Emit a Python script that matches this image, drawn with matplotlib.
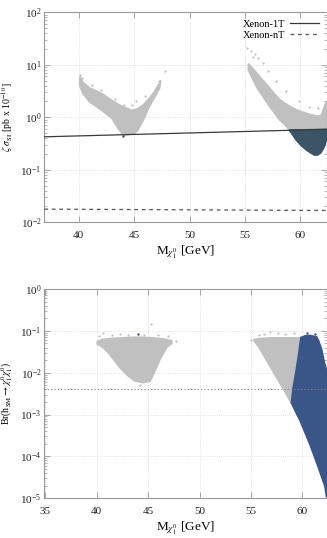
import matplotlib
matplotlib.use("Agg")
import matplotlib.pyplot as plt
from matplotlib.ticker import LogLocator, NullFormatter, FixedLocator

plt.rcParams['font.family'] = ['Liberation Serif', 'DejaVu Serif']
plt.rcParams['mathtext.fontset'] = 'stix'

GRAY = '#c0c0c0'
TEAL = '#3b5566'
BLUE = '#3a5587'

# ---------------- top panel data: (mass [GeV], zeta*sigma_SI [pb x 1e-10])
top_left_cloud_m = [40.1, 40.4, 41.0, 42.0, 43.0, 43.7, 44.3, 44.8, 45.3, 45.8, 46.3, 46.8, 47.3, 47.4,
                    47.3, 46.8, 46.3, 46.0, 45.6, 45.3, 45.0, 44.5, 44.0, 43.6, 43.0, 42.0, 41.0, 40.4, 40.1]
top_left_cloud_s = [6.0, 4.6, 3.6, 2.9, 2.1, 1.7, 1.5, 1.35, 1.45, 1.7, 2.2, 3.0, 4.5, 5.0,
                    3.6, 2.3, 1.5, 1.05, 0.72, 0.55, 0.49, 0.47, 0.46, 0.6, 0.95, 1.4, 1.95, 2.8, 4.0]

top_right_cloud_m = [55.3, 55.7, 56.1, 56.6, 57.1, 57.6, 58.1, 58.6, 59.1, 59.6, 60.1, 60.6, 61.1, 61.6, 61.9, 62.1, 62.35,
                     62.35, 59.0, 58.6, 58.1, 57.6, 57.1, 56.6, 56.1, 55.7, 55.3]
top_right_cloud_s = [10.5, 8.5, 6.8, 5.1, 3.9, 2.9, 2.2, 1.85, 1.6, 1.4, 1.28, 1.18, 1.1, 1.05, 1.1, 1.5, 2.0,
                     0.59, 0.575, 0.72, 0.9, 1.25, 1.75, 2.5, 3.6, 5.3, 8.0]

top_allowed_m = [59.0, 62.35, 62.35, 62.15, 61.85, 61.55, 61.25, 60.9, 60.5, 60.05, 59.6, 59.3, 59.0]
top_allowed_s = [0.575, 0.59, 0.36, 0.27, 0.21, 0.19, 0.19, 0.21, 0.24, 0.29, 0.37, 0.46, 0.56]

top_outlier_m = [55.2, 55.55, 55.9, 55.75, 56.2, 56.6, 57.1, 57.8, 58.7, 59.9, 60.8, 61.6,
                 40.1, 40.3, 41.2, 42.0, 43.3, 44.1, 44.8, 45.2, 46.0, 47.8, 47.2]
top_outlier_s = [21, 18, 16, 14, 13.5, 11, 7.5, 5.0, 3.2, 2.0, 1.6, 1.5,
                 6.3, 5.6, 4.2, 3.3, 2.2, 1.75, 1.7, 2.0, 2.6, 7.5, 5.0]
top_allowed_outlier_m = [44.0]
top_allowed_outlier_s = [0.45]

xenon1t_m = [36.9, 62.35]
xenon1t_s = [0.425, 0.59]
xenonnt_m = [36.9, 62.35]
xenonnt_s = [0.0178, 0.0168]

# ---------------- bottom panel data: (mass [GeV], Br(h -> chi chi))
bot_left_cloud_m = [40.05, 40.5, 41.5, 42.5, 43.5, 44.5, 45.5, 46.5, 47.3,
                    47.3, 46.8, 46.16, 45.67, 45.2, 44.5, 43.73, 43.08, 42.27, 41.13, 40.5, 40.05]
bot_left_cloud_b = [0.055, 0.062, 0.066, 0.068, 0.07, 0.07, 0.068, 0.064, 0.058,
                    0.05, 0.040, 0.021, 0.011, 0.0063, 0.0058, 0.0063, 0.0083, 0.013, 0.030, 0.042, 0.048]

bot_right_cloud_m = [55.3, 56.0, 57.0, 58.0, 59.0, 59.85, 59.65, 59.4, 59.1, 58.92,
                     58.1, 56.8, 55.8, 55.3]
bot_right_cloud_b = [0.062, 0.066, 0.068, 0.068, 0.068, 0.068, 0.03, 0.012, 0.0045, 0.0019,
                     0.0043, 0.015, 0.04, 0.058]

bot_allowed_m = [59.85, 60.3, 60.8, 61.4, 61.6, 61.9, 62.2, 62.35, 62.35, 62.19, 61.53, 60.7, 59.74, 59.41,
                 58.92, 59.1, 59.4, 59.65, 59.85]
bot_allowed_b = [0.07, 0.077, 0.078, 0.072, 0.058, 0.035, 0.016, 0.012, 1.05e-5, 1.9e-5, 5.6e-5, 2.0e-4, 7.4e-4, 1.07e-3,
                 0.0019, 0.0045, 0.012, 0.03, 0.07]

bot_outlier_m = [40.2, 40.64, 41.5, 42.3, 43.0, 44.6, 45.28, 46.0, 46.9, 47.75, 44.2,
                 55.0, 55.8, 56.3, 56.9, 57.6, 58.3, 59.2]
bot_outlier_b = [0.075, 0.088, 0.08, 0.082, 0.078, 0.08, 0.145, 0.08, 0.075, 0.057, 0.0052,
                 0.062, 0.08, 0.085, 0.095, 0.088, 0.082, 0.09]
bot_allowed_outlier_m = [43.99, 60.5, 61.2]
bot_allowed_outlier_b = [0.083, 0.088, 0.085]

br_limit_m = [34.9, 62.35]
br_limit_b = [0.004, 0.004]

W, H = 327, 538
fig = plt.figure(figsize=(W / 100, H / 100), dpi=100)
ax1 = fig.add_axes([44.3 / W, (H - 222.3) / H, 282.2 / W, 210 / H])
ax2 = fig.add_axes([44.3 / W, (H - 498.3) / H, 282.2 / W, 209.3 / H])

SP = '#999999'


def style(ax):
    ax.set_yscale('log')
    for s in ax.spines.values():
        s.set_color(SP)
        s.set_linewidth(0.8)
    ax.tick_params(which='both', direction='in', top=True, right=True, colors=SP,
                   labelcolor='#222222', labelsize=8)
    ax.tick_params(axis='y', pad=2)
    ax.tick_params(axis='x', pad=6)
    ax.tick_params(which='major', length=4, width=0.6)
    ax.tick_params(which='minor', length=2, width=0.5)
    ax.yaxis.set_minor_locator(LogLocator(base=10, subs=range(2, 10), numticks=20))
    ax.yaxis.set_minor_formatter(NullFormatter())
    ax.grid(True, which='major', color='#d8d8d8', linestyle=':', linewidth=0.6)
    ax.set_axisbelow(True)


# ---- top
style(ax1)
ax1.fill(top_left_cloud_m, top_left_cloud_s, color=GRAY, lw=1.2, zorder=2)
ax1.fill(top_right_cloud_m, top_right_cloud_s, color=GRAY, lw=1.2, zorder=2)
ax1.fill(top_allowed_m, top_allowed_s, color=TEAL, lw=1.0, zorder=3)
ax1.scatter(top_outlier_m, top_outlier_s, s=2.5, color=GRAY, lw=0, zorder=2)
ax1.scatter(top_allowed_outlier_m, top_allowed_outlier_s, s=3, color=TEAL, lw=0, zorder=3)
ax1.plot(xenon1t_m, xenon1t_s, color='#3a3a3a', lw=0.9, label='Xenon-1T', zorder=4)
ax1.plot(xenonnt_m, xenonnt_s, color='#555555', lw=0.9, ls=(0, (3, 3)), label='Xenon-nT', zorder=4)
ax1.set_xlim(36.9, 62.35)
ax1.set_ylim(1e-2, 1e2)
ax1.xaxis.set_major_locator(FixedLocator([40, 45, 50, 55, 60]))
ax1.set_xlabel(r'M$_{\chi^0_1}$ [GeV]', fontsize=9.5, labelpad=3)
ax1.set_ylabel(r'$\zeta\ \sigma_{\rm SI}$ [pb x 10$^{-10}$]', fontsize=7)
ax1.yaxis.set_label_coords(-0.105, 0.5)
leg = ax1.legend(loc='upper right', frameon=False, markerfirst=False, fontsize=7.5,
                 handlelength=2.8, handletextpad=0.5, labelspacing=0.15, borderaxespad=0.3)

# ---- bottom
style(ax2)
ax2.fill(bot_left_cloud_m, bot_left_cloud_b, color=GRAY, lw=1.2, zorder=2)
ax2.fill(bot_right_cloud_m, bot_right_cloud_b, color=GRAY, lw=1.2, zorder=2)
ax2.fill(bot_allowed_m, bot_allowed_b, color=BLUE, lw=1.0, zorder=3)
ax2.scatter(bot_outlier_m, bot_outlier_b, s=2.5, color=GRAY, lw=0, zorder=2)
ax2.scatter(bot_allowed_outlier_m, bot_allowed_outlier_b, s=3, color=BLUE, lw=0, zorder=3)
ax2.plot(br_limit_m, br_limit_b, color='#888888', lw=0.8, ls=(0, (1, 2)), zorder=4)
ax2.set_xlim(34.9, 62.35)
ax2.set_ylim(1e-5, 1e0)
ax2.xaxis.set_major_locator(FixedLocator([35, 40, 45, 50, 55, 60]))
ax2.set_xlabel(r'M$_{\chi^0_1}$ [GeV]', fontsize=9.5, labelpad=3)
ax2.set_ylabel(r'Br(h$_{\rm SM}\rightarrow\chi^0_1\chi^0_1$)', fontsize=7)
ax2.yaxis.set_label_coords(-0.105, 0.5)

fig.savefig('out.png', dpi=100)
